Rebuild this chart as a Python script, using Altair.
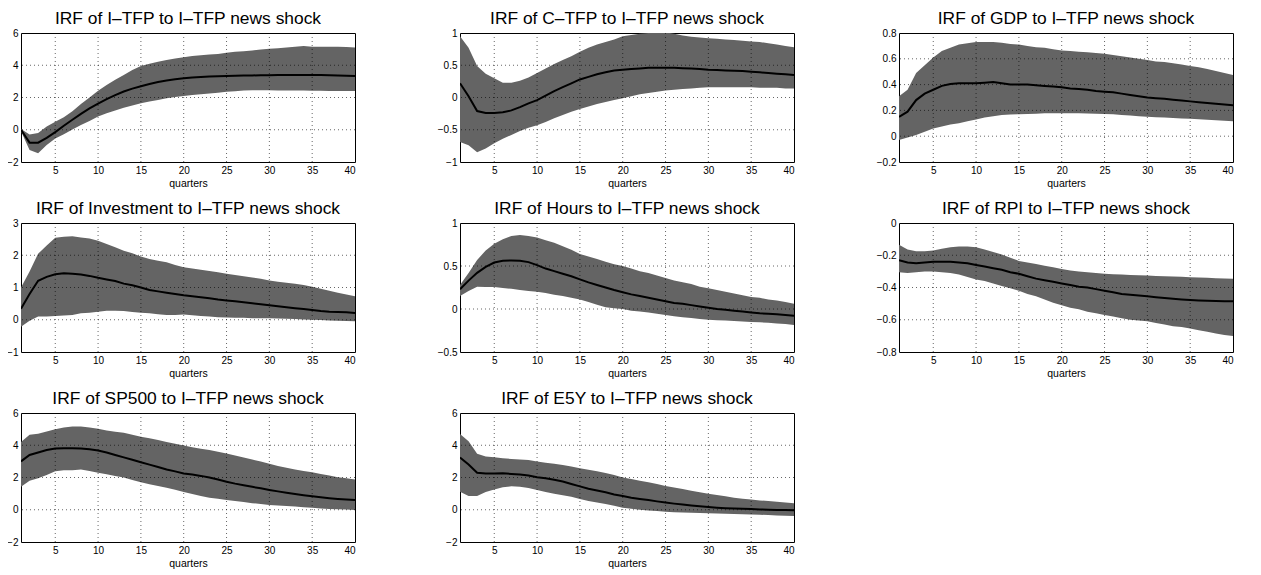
import altair as alt
import pandas as pd

quarters = list(range(1, 41))
x_ticks = [5, 10, 15, 20, 25, 30, 35, 40]

titles = [
    "IRF of I\u2013TFP to I\u2013TFP news shock",
    "IRF of C\u2013TFP to I\u2013TFP news shock",
    "IRF of GDP to I\u2013TFP news shock",
    "IRF of Investment to I\u2013TFP news shock",
    "IRF of Hours to I\u2013TFP news shock",
    "IRF of RPI to I\u2013TFP news shock",
    "IRF of SP500 to I\u2013TFP news shock",
    "IRF of E5Y to I\u2013TFP news shock",
]

y_domains = [[-2, 6], [-1, 1], [-0.2, 0.8], [-1, 3], [-0.5, 1], [-0.8, 0], [-2, 6], [-2, 6]]
y_ticks = [
    [-2, 0, 2, 4, 6],
    [-1, -0.5, 0, 0.5, 1],
    [-0.2, 0, 0.2, 0.4, 0.6, 0.8],
    [-1, 0, 1, 2, 3],
    [-0.5, 0, 0.5, 1],
    [-0.8, -0.6, -0.4, -0.2, 0],
    [-2, 0, 2, 4, 6],
    [-2, 0, 2, 4, 6],
]

# I-TFP
itfp_med = [0.0, -0.8, -0.8, -0.5, -0.15, 0.25, 0.62, 0.98, 1.32, 1.62, 1.9, 2.15, 2.37, 2.55, 2.7, 2.84, 2.96, 3.06, 3.13, 3.19,
            3.24, 3.27, 3.3, 3.32, 3.34, 3.35, 3.36, 3.37, 3.38, 3.38, 3.39, 3.39, 3.4, 3.4, 3.4, 3.39, 3.38, 3.37, 3.35, 3.33]
itfp_hi = [0.05, -0.3, -0.2, 0.2, 0.5, 0.78, 1.15, 1.6, 2.0, 2.42, 2.78, 3.1, 3.4, 3.7, 3.95, 4.1, 4.22, 4.33, 4.42, 4.5,
           4.57, 4.62, 4.66, 4.7, 4.77, 4.83, 4.87, 4.92, 4.97, 5.02, 5.06, 5.1, 5.15, 5.2, 5.15, 5.15, 5.15, 5.15, 5.13, 5.1]
itfp_lo = [-0.1, -1.25, -1.45, -0.95, -0.55, -0.28, 0.02, 0.3, 0.55, 0.82, 1.02, 1.2, 1.36, 1.5, 1.64, 1.75, 1.85, 1.95, 2.03, 2.1,
           2.15, 2.2, 2.25, 2.3, 2.35, 2.39, 2.43, 2.45, 2.45, 2.45, 2.44, 2.44, 2.43, 2.43, 2.42, 2.42, 2.41, 2.41, 2.4, 2.4]

# C-TFP
ctfp_med = [0.22, 0.02, -0.21, -0.24, -0.24, -0.23, -0.2, -0.15, -0.09, -0.04, 0.03, 0.1, 0.16, 0.22, 0.28, 0.32, 0.36, 0.39, 0.42, 0.43,
            0.44, 0.45, 0.46, 0.46, 0.46, 0.46, 0.455, 0.45, 0.44, 0.43, 0.425, 0.42, 0.415, 0.41, 0.4, 0.39, 0.38, 0.37, 0.36, 0.35]
ctfp_hi = [0.95, 0.77, 0.49, 0.37, 0.3, 0.23, 0.23, 0.26, 0.31, 0.38, 0.45, 0.52, 0.58, 0.64, 0.71, 0.77, 0.82, 0.86, 0.9, 0.95,
           0.97, 0.99, 1.0, 1.01, 1.01, 0.99, 0.96, 0.94, 0.93, 0.92, 0.91, 0.9, 0.89, 0.88, 0.87, 0.86, 0.84, 0.82, 0.8, 0.78]
ctfp_lo = [-0.69, -0.74, -0.85, -0.79, -0.71, -0.64, -0.58, -0.52, -0.47, -0.43, -0.38, -0.32, -0.27, -0.22, -0.18, -0.14, -0.1, -0.07, -0.04, -0.01,
           0.02, 0.05, 0.07, 0.09, 0.11, 0.12, 0.13, 0.14, 0.15, 0.16, 0.16, 0.16, 0.16, 0.16, 0.16, 0.15, 0.15, 0.15, 0.14, 0.14]

# GDP
gdp_med = [0.15, 0.19, 0.28, 0.33, 0.36, 0.39, 0.405, 0.41, 0.41, 0.41, 0.415, 0.42, 0.41, 0.40, 0.40, 0.40, 0.395, 0.39, 0.385, 0.38,
           0.37, 0.365, 0.36, 0.35, 0.345, 0.34, 0.33, 0.32, 0.31, 0.30, 0.295, 0.29, 0.283, 0.277, 0.27, 0.264, 0.258, 0.252, 0.246, 0.24]
gdp_hi = [0.31, 0.36, 0.49, 0.55, 0.61, 0.66, 0.685, 0.71, 0.72, 0.73, 0.73, 0.73, 0.725, 0.715, 0.71, 0.70, 0.69, 0.685, 0.675, 0.665,
          0.66, 0.655, 0.65, 0.645, 0.64, 0.63, 0.62, 0.61, 0.60, 0.59, 0.58, 0.575, 0.565, 0.555, 0.545, 0.535, 0.52, 0.505, 0.49, 0.475]
gdp_lo = [-0.03, -0.01, 0.01, 0.035, 0.06, 0.075, 0.09, 0.1, 0.115, 0.13, 0.145, 0.155, 0.165, 0.168, 0.17, 0.172, 0.175, 0.177, 0.178, 0.178,
          0.178, 0.178, 0.176, 0.175, 0.172, 0.17, 0.165, 0.16, 0.155, 0.15, 0.147, 0.144, 0.141, 0.138, 0.135, 0.131, 0.127, 0.123, 0.119, 0.115]

# Investment
inv_med = [0.34, 0.8, 1.21, 1.33, 1.41, 1.44, 1.43, 1.4, 1.36, 1.3, 1.25, 1.2, 1.12, 1.07, 1.0, 0.92, 0.88, 0.84, 0.8, 0.76,
           0.73, 0.7, 0.67, 0.63, 0.6, 0.57, 0.54, 0.51, 0.48, 0.45, 0.42, 0.39, 0.36, 0.33, 0.3, 0.27, 0.25, 0.24, 0.23, 0.21]
inv_hi = [1.0, 1.5, 2.05, 2.3, 2.54, 2.57, 2.59, 2.55, 2.52, 2.45, 2.35, 2.25, 2.14, 2.06, 1.96, 1.88, 1.83, 1.78, 1.7, 1.63,
          1.59, 1.55, 1.51, 1.47, 1.43, 1.39, 1.35, 1.31, 1.27, 1.22, 1.18, 1.15, 1.12, 1.08, 1.02, 0.96, 0.9, 0.84, 0.78, 0.73]
inv_lo = [-0.22, -0.03, 0.1, 0.1, 0.12, 0.13, 0.15, 0.2, 0.22, 0.25, 0.28, 0.28, 0.27, 0.24, 0.22, 0.2, 0.17, 0.15, 0.15, 0.16,
          0.14, 0.12, 0.1, 0.08, 0.07, 0.06, 0.06, 0.05, 0.05, 0.05, 0.04, 0.03, 0.02, 0.01, 0.0, -0.01, -0.02, -0.03, -0.04, -0.05]

# Hours
hrs_med = [0.23, 0.33, 0.42, 0.49, 0.54, 0.56, 0.565, 0.56, 0.545, 0.51, 0.47, 0.44, 0.41, 0.38, 0.345, 0.31, 0.28, 0.25, 0.22, 0.195,
           0.17, 0.15, 0.13, 0.11, 0.09, 0.07, 0.06, 0.045, 0.03, 0.015, 0.0, -0.01, -0.02, -0.03, -0.04, -0.05, -0.055, -0.06, -0.07, -0.08]
hrs_hi = [0.28, 0.42, 0.57, 0.68, 0.76, 0.81, 0.85, 0.86, 0.85, 0.83, 0.8, 0.77, 0.73, 0.69, 0.64, 0.61, 0.58, 0.55, 0.52, 0.5,
          0.47, 0.44, 0.42, 0.39, 0.36, 0.33, 0.31, 0.29, 0.26, 0.24, 0.22, 0.2, 0.18, 0.16, 0.14, 0.13, 0.11, 0.1, 0.08, 0.06]
hrs_lo = [0.15, 0.21, 0.26, 0.255, 0.255, 0.245, 0.235, 0.22, 0.21, 0.2, 0.185, 0.165, 0.15, 0.13, 0.11, 0.08, 0.05, 0.02, 0.01, 0.0,
          -0.02, -0.03, -0.04, -0.055, -0.07, -0.085, -0.095, -0.105, -0.115, -0.125, -0.13, -0.135, -0.14, -0.145, -0.15, -0.155, -0.16, -0.17, -0.175, -0.185]

# RPI
rpi_med = [-0.23, -0.245, -0.25, -0.245, -0.24, -0.24, -0.24, -0.245, -0.25, -0.26, -0.27, -0.28, -0.29, -0.305, -0.315, -0.33, -0.345, -0.355, -0.365, -0.375,
           -0.385, -0.395, -0.4, -0.41, -0.42, -0.43, -0.44, -0.445, -0.45, -0.455, -0.46, -0.465, -0.47, -0.474, -0.477, -0.48, -0.482, -0.484, -0.485, -0.486]
rpi_hi = [-0.135, -0.165, -0.175, -0.175, -0.17, -0.16, -0.15, -0.145, -0.145, -0.15, -0.165, -0.18, -0.195, -0.215, -0.235, -0.245, -0.255, -0.265, -0.275, -0.285,
          -0.295, -0.3, -0.305, -0.31, -0.315, -0.318, -0.32, -0.322, -0.324, -0.326, -0.328, -0.33, -0.332, -0.334, -0.336, -0.338, -0.34, -0.342, -0.344, -0.346]
rpi_lo = [-0.305, -0.31, -0.305, -0.3, -0.3, -0.305, -0.31, -0.32, -0.335, -0.35, -0.36, -0.375, -0.39, -0.405, -0.42, -0.44, -0.455, -0.475, -0.495, -0.51,
          -0.525, -0.535, -0.55, -0.56, -0.57, -0.58, -0.59, -0.6, -0.605, -0.61, -0.62, -0.63, -0.64, -0.645, -0.655, -0.665, -0.675, -0.685, -0.695, -0.7]

# SP500
sp_med = [3.0, 3.4, 3.55, 3.7, 3.8, 3.82, 3.82, 3.8, 3.75, 3.68, 3.55, 3.4, 3.25, 3.1, 2.95, 2.8, 2.65, 2.5, 2.38, 2.25,
          2.18, 2.1, 2.0, 1.87, 1.74, 1.62, 1.52, 1.42, 1.33, 1.23, 1.14, 1.05, 0.97, 0.9, 0.83, 0.77, 0.72, 0.67, 0.63, 0.6]
sp_hi = [4.2, 4.65, 4.72, 4.85, 5.0, 5.1, 5.16, 5.16, 5.1, 5.02, 4.92, 4.84, 4.78, 4.65, 4.52, 4.44, 4.32, 4.2, 4.1, 3.99,
         3.88, 3.78, 3.7, 3.6, 3.49, 3.37, 3.24, 3.11, 2.99, 2.85, 2.72, 2.6, 2.5, 2.41, 2.33, 2.22, 2.12, 2.02, 1.95, 1.87]
sp_lo = [1.42, 1.8, 1.95, 2.15, 2.38, 2.45, 2.45, 2.5, 2.4, 2.29, 2.2, 2.1, 2.0, 1.85, 1.71, 1.58, 1.47, 1.37, 1.24, 1.1,
         0.98, 0.86, 0.75, 0.68, 0.6, 0.54, 0.48, 0.41, 0.35, 0.3, 0.27, 0.23, 0.2, 0.16, 0.12, 0.08, 0.05, 0.03, 0.01, -0.02]

# E5Y
e5y_med = [3.24, 2.8, 2.3, 2.25, 2.25, 2.26, 2.22, 2.18, 2.12, 2.02, 1.95, 1.86, 1.75, 1.6, 1.45, 1.3, 1.2, 1.08, 0.95, 0.85,
           0.75, 0.67, 0.6, 0.52, 0.45, 0.38, 0.32, 0.26, 0.21, 0.17, 0.13, 0.1, 0.08, 0.06, 0.04, 0.02, 0.0, -0.01, -0.02, -0.03]
e5y_hi = [4.69, 4.25, 3.48, 3.3, 3.25, 3.2, 3.15, 3.12, 3.08, 3.0, 2.92, 2.85, 2.78, 2.68, 2.58, 2.48, 2.38, 2.28, 2.15, 2.0,
          1.9, 1.8, 1.7, 1.6, 1.48, 1.38, 1.28, 1.18, 1.08, 0.99, 0.92, 0.83, 0.75, 0.68, 0.63, 0.58, 0.54, 0.5, 0.45, 0.41]
e5y_lo = [1.12, 0.86, 0.85, 1.1, 1.26, 1.4, 1.45, 1.42, 1.35, 1.22, 1.1, 1.0, 0.9, 0.8, 0.67, 0.55, 0.45, 0.35, 0.25, 0.13,
          0.06, 0.0, -0.05, -0.08, -0.12, -0.15, -0.17, -0.19, -0.2, -0.22, -0.24, -0.25, -0.27, -0.28, -0.3, -0.31, -0.33, -0.35, -0.37, -0.38]

series = [
    (itfp_med, itfp_lo, itfp_hi),
    (ctfp_med, ctfp_lo, ctfp_hi),
    (gdp_med, gdp_lo, gdp_hi),
    (inv_med, inv_lo, inv_hi),
    (hrs_med, hrs_lo, hrs_hi),
    (rpi_med, rpi_lo, rpi_hi),
    (sp_med, sp_lo, sp_hi),
    (e5y_med, e5y_lo, e5y_hi),
]

FONT = "Liberation Sans"
BAND = "#646464"


def panel(title, med, lo, hi, ydom, yvals):
    df = pd.DataFrame({"q": quarters, "med": med, "lo": lo, "hi": hi})
    xscale = alt.Scale(domain=[1, 40], nice=False, zero=False)
    yscale = alt.Scale(domain=ydom, nice=False, zero=False)
    xaxis = alt.Axis(values=x_ticks, title="quarters", format="d")
    yaxis = alt.Axis(values=yvals, title="", format="~g")

    band = alt.Chart(df).mark_area(color=BAND, opacity=1, clip=True).encode(
        x=alt.X("q:Q", scale=xscale, axis=xaxis),
        y=alt.Y("lo:Q", scale=yscale, axis=yaxis),
        y2="hi:Q",
    )
    xgrid = alt.Chart(pd.DataFrame({"gx": x_ticks[:-1]})).mark_rule(
        color="black", strokeDash=[1, 3], strokeWidth=1, opacity=0.6
    ).encode(x=alt.X("gx:Q", scale=xscale, axis=xaxis))
    ygrid = alt.Chart(pd.DataFrame({"gy": yvals[1:-1]})).mark_rule(
        color="black", strokeDash=[1, 3], strokeWidth=1, opacity=0.6
    ).encode(y=alt.Y("gy:Q", scale=yscale, axis=yaxis))
    line = alt.Chart(df).mark_line(color="black", strokeWidth=2, clip=True).encode(
        x=alt.X("q:Q", scale=xscale, axis=xaxis),
        y=alt.Y("med:Q", scale=yscale, axis=yaxis),
    )
    return alt.layer(band, xgrid, ygrid, line).properties(
        width=334, height=129, title=alt.TitleParams(text=title)
    )


panels = [panel(t, s[0], s[1], s[2], d, v) for t, s, d, v in zip(titles, series, y_domains, y_ticks)]

chart = alt.concat(
    *panels, columns=3, spacing={"row": 61, "column": 105}, bounds="flush"
).properties(
    padding={"left": -2, "top": 1, "right": 5, "bottom": 2}
).configure_view(
    stroke="black", strokeWidth=1
).configure_axis(
    grid=False,
    domain=False,
    ticks=False,
    labelOverlap=False,
    labelFont=FONT,
    labelFontSize=10,
    labelColor="black",
    labelPadding=3,
    titleFont=FONT,
    titleFontSize=10.5,
    titleFontWeight="normal",
    titleColor="black",
    titlePadding=3,
).configure_title(
    font=FONT,
    fontSize=17.4,
    fontWeight="normal",
    color="black",
    anchor="middle",
    offset=1,
)

chart.save("out.html", embed_options={"renderer": "svg", "actions": False})
